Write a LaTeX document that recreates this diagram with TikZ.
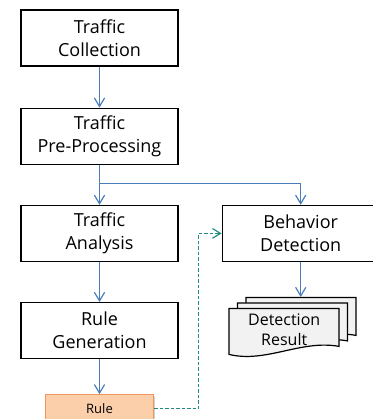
\documentclass[tikz,border=0pt]{standalone}
\usepackage{fontspec}
\setmainfont{Open Sans}
\usetikzlibrary{arrows.meta,positioning,calc,shadows}

\definecolor{flowblue}{RGB}{74,126,187}
\definecolor{ruleteal}{RGB}{35,140,130}
\definecolor{ruleline}{RGB}{240,150,90}
\definecolor{rulefill}{RGB}{251,207,170}
\definecolor{pagefill}{RGB}{242,242,242}

\begin{document}
\begin{tikzpicture}[
  x=1pt, y=1pt,
  font=\fontsize{18}{23}\selectfont,
  node distance=40pt and 43pt,
  step box/.style={
    draw=black,
    line width=1.2pt,
    fill=white,
    align=center,
    inner sep=0pt,
    minimum width=157pt,
    minimum height=56pt
  },
  rule box/.style={
    draw=ruleline,
    line width=1.2pt,
    fill=rulefill,
    inner sep=0pt,
    minimum width=108pt,
    minimum height=28pt,
    font=\fontsize{13}{16}\selectfont,
    drop shadow={shadow xshift=1pt, shadow yshift=-1.5pt, opacity=0.35}
  },
  page/.style={draw=black, line width=1.2pt, fill=pagefill},
  arrow/.style={-{Straight Barb[length=3mm, width=3.6mm]}, line width=1.2pt, draw=flowblue},
  dash arrow/.style={-{Straight Barb[length=2.8mm, width=3.4mm]}, line width=1.2pt, draw=ruleteal, dash pattern=on 3.5pt off 2pt}
]
\useasboundingbox (0,0) rectangle (372,-419);

\node[step box] (coll) at (99.5,-38) {Traffic\\Collection};
\node[step box, below=41pt of coll] (pre) {Traffic\\Pre-Processing};
\node[step box, below=of pre] (ana) {Traffic\\Analysis};
\node[step box, below=of ana] (gen) {Rule\\Generation};
\node[rule box, below=35pt of gen] (rule) {Rule};
\node[step box, right=of ana] (det) {Behavior\\Detection};

% stacked result pages
\node[minimum width=110pt, minimum height=46pt, inner sep=0pt, below=46pt of det, xshift=-16.5pt] (res) {};
\foreach \dx/\dy in {17/11,8.5/5.5,0/0}
  \draw[page] ($(res.south west)+(\dx,\dy)$) -- ++(0,46) -- ++(110,0) -- ++(0,-38)
    .. controls ($(res.south west)+(\dx+72,\dy+15)$) and ($(res.south west)+(\dx+37,\dy-9)$) .. ($(res.south west)+(\dx,\dy)$) -- cycle;
\node[align=center, font=\fontsize{16}{20}\selectfont] (restext) at ([yshift=1pt]res.center) {Detection\\Result};
\coordinate (backtop) at ($(res.north west)+(72,11)$);

\draw[arrow] (coll) -- (pre);
\draw[arrow] (pre) -- (ana);
\draw[arrow] (pre.south) -- ++(0,-19) -| (det.north);
\draw[arrow] (ana) -- (gen);
\draw[arrow] (gen) -- (rule);
\draw[arrow] (det) -- (det |- backtop);
\draw[dash arrow] (rule.east) -| ([xshift=-23pt]det.west) -- (det.west);

\end{tikzpicture}
\end{document}
